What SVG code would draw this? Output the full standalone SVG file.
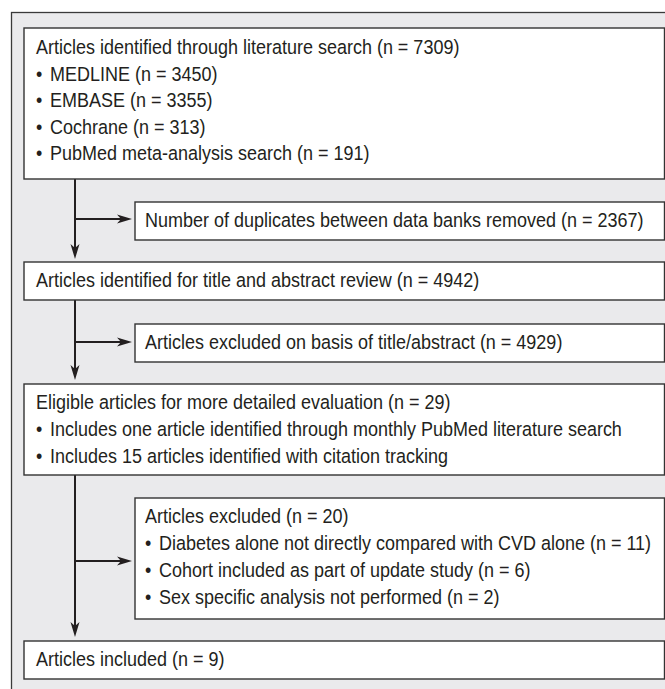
<svg xmlns="http://www.w3.org/2000/svg" width="665" height="689" viewBox="0 0 665 689">
<style>
.bg{fill:#eaeaec;stroke:#3a3a3a;stroke-width:1.3}
.box{fill:#ffffff;stroke:#333333;stroke-width:1.4}
.t{font-family:"Liberation Sans",Arial,sans-serif;font-size:19.5px;fill:#231f20}
.ln{fill:none;stroke:#231f20;stroke-width:2}
</style>
<defs>
<marker id="ah" markerUnits="userSpaceOnUse" viewBox="0 0 15 10" refX="4" refY="5" markerWidth="15" markerHeight="10" orient="auto">
<path d="M0,0.5 L15,5 L0,9.5 L4,5 Z" fill="#231f20"/>
</marker>
</defs>
<rect class="bg" x="11.5" y="12.5" width="700" height="700"/>
<g id="connectors">
<line class="ln" x1="75" y1="179" x2="75" y2="248" marker-end="url(#ah)"/>
<line class="ln" x1="75" y1="219" x2="121" y2="219" marker-end="url(#ah)"/>
<line class="ln" x1="75" y1="300" x2="75" y2="369" marker-end="url(#ah)"/>
<line class="ln" x1="75" y1="342" x2="121" y2="342" marker-end="url(#ah)"/>
<line class="ln" x1="75" y1="475" x2="75" y2="626" marker-end="url(#ah)"/>
<line class="ln" x1="75" y1="561" x2="121" y2="561" marker-end="url(#ah)"/>
</g>
<g id="identified">
<rect class="box" x="24" y="28" width="640.5" height="151"/>
<text class="t" transform="translate(36,54) scale(0.923,1)">Articles identified through literature search (n = 7309)</text>
<text class="t" transform="translate(36,80.5) scale(0.923,1)">•<tspan x="15.2">MEDLINE (n = 3450)</tspan></text>
<text class="t" transform="translate(36,107) scale(0.923,1)">•<tspan x="15.2">EMBASE (n = 3355)</tspan></text>
<text class="t" transform="translate(36,133.5) scale(0.923,1)">•<tspan x="15.2">Cochrane (n = 313)</tspan></text>
<text class="t" transform="translate(36,160) scale(0.923,1)">•<tspan x="15.2">PubMed meta-analysis search (n = 191)</tspan></text>
</g>
<g id="duplicates">
<rect class="box" x="135" y="202" width="529.5" height="38"/>
<text class="t" transform="translate(145,227) scale(0.923,1)">Number of duplicates between data banks removed (n = 2367)</text>
</g>
<g id="screening">
<rect class="box" x="24" y="262" width="640.5" height="38"/>
<text class="t" transform="translate(36,287) scale(0.923,1)">Articles identified for title and abstract review (n = 4942)</text>
</g>
<g id="excluded-title">
<rect class="box" x="135" y="324" width="529.5" height="38"/>
<text class="t" transform="translate(145,349) scale(0.923,1)">Articles excluded on basis of title/abstract (n = 4929)</text>
</g>
<g id="eligible">
<rect class="box" x="24" y="384" width="640.5" height="91"/>
<text class="t" transform="translate(36,409) scale(0.923,1)">Eligible articles for more detailed evaluation (n = 29)</text>
<text class="t" transform="translate(36,436) scale(0.923,1)">•<tspan x="15.2">Includes one article identified through monthly PubMed literature search</tspan></text>
<text class="t" transform="translate(36,463) scale(0.923,1)">•<tspan x="15.2">Includes 15 articles identified with citation tracking</tspan></text>
</g>
<g id="excluded-full">
<rect class="box" x="135" y="498" width="529.5" height="121"/>
<text class="t" transform="translate(145,523) scale(0.923,1)">Articles excluded (n = 20)</text>
<text class="t" transform="translate(145,550) scale(0.923,1)">•<tspan x="15.2">Diabetes alone not directly compared with CVD alone (n = 11)</tspan></text>
<text class="t" transform="translate(145,577) scale(0.923,1)">•<tspan x="15.2">Cohort included as part of update study (n = 6)</tspan></text>
<text class="t" transform="translate(145,604) scale(0.923,1)">•<tspan x="15.2">Sex specific analysis not performed (n = 2)</tspan></text>
</g>
<g id="included">
<rect class="box" x="24" y="641" width="640.5" height="38"/>
<text class="t" transform="translate(36,666) scale(0.923,1)">Articles included (n = 9)</text>
</g>
</svg>
